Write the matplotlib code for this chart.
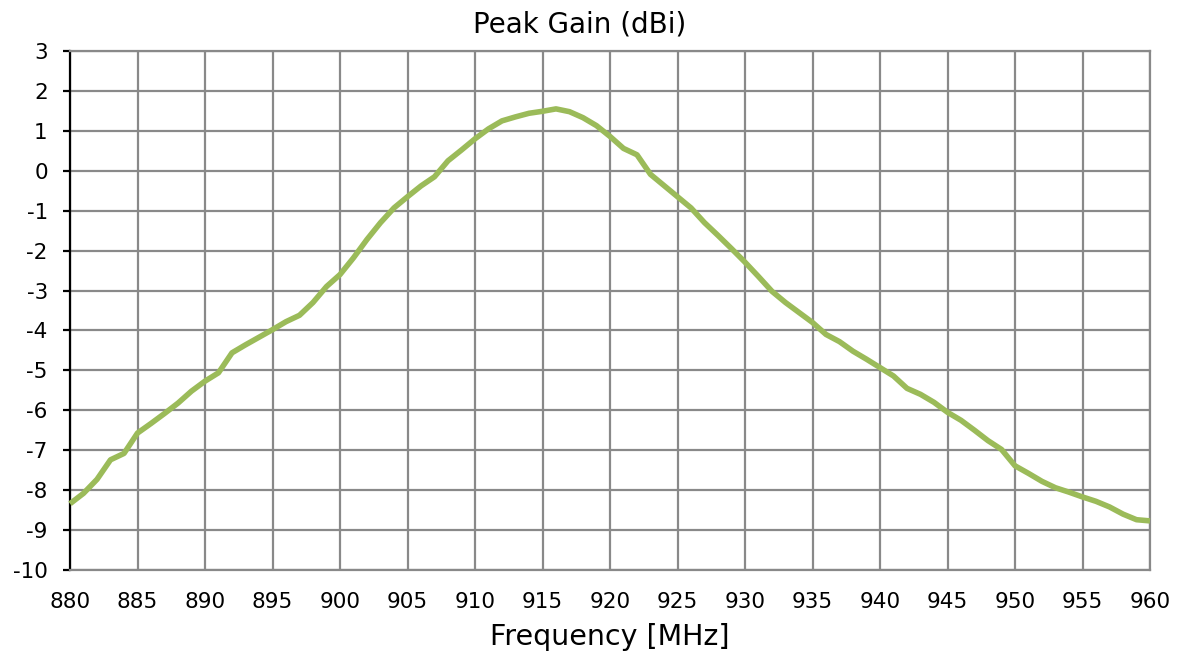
import matplotlib
matplotlib.use("Agg")
import matplotlib.pyplot as plt

freq_mhz = list(range(880, 961))
gain_dbi = [-8.34, -8.08, -7.73, -7.24, -7.08, -6.57, -6.33, -6.08, -5.82, -5.52,
            -5.27, -5.06, -4.56, -4.36, -4.17, -3.98, -3.78, -3.62, -3.30, -2.90,
            -2.60, -2.18, -1.72, -1.30, -0.93, -0.65, -0.38, -0.15, 0.25, 0.52,
            0.80, 1.05, 1.25, 1.35, 1.44, 1.49, 1.55, 1.48, 1.33, 1.13,
            0.86, 0.56, 0.40, -0.09, -0.37, -0.65, -0.93, -1.30, -1.62, -1.95,
            -2.29, -2.65, -3.02, -3.30, -3.55, -3.80, -4.10, -4.28, -4.52, -4.72,
            -4.93, -5.14, -5.45, -5.60, -5.80, -6.05, -6.25, -6.50, -6.76, -6.98,
            -7.39, -7.58, -7.78, -7.94, -8.05, -8.17, -8.28, -8.42, -8.60, -8.74,
            -8.77]
x_ticks = list(range(880, 961, 5))
y_ticks = list(range(-10, 4))

title = "Peak Gain (dBi)"
xlabel = "Frequency [MHz]"

plt.rcParams['font.family'] = ['DejaVu Sans']
plt.rcParams['axes.unicode_minus'] = False

fig = plt.figure(figsize=(11.79, 6.63), dpi=100)
ax = fig.add_axes([70/1179, 1-570/663, (1150-70)/1179, (570-51)/663])

grid_c = '#898989'
ax.plot(freq_mhz, gain_dbi, color='#9BBB59', lw=4.0, solid_joinstyle='round',
        solid_capstyle='butt', zorder=3, clip_on=False)

ax.set_xlim(880, 960)
ax.set_ylim(-10, 3)
ax.set_xticks(x_ticks)
ax.set_yticks(y_ticks)
ax.grid(True, color=grid_c, lw=1.6, zorder=1)
ax.set_axisbelow(True)

for s in ['top', 'right', 'bottom']:
    ax.spines[s].set_color(grid_c)
    ax.spines[s].set_linewidth(1.6)
ax.spines['left'].set_color('black')
ax.spines['left'].set_linewidth(1.6)

ax.tick_params(axis='y', direction='out', length=5, width=1.6, color='black',
               labelsize=15.5, pad=11)
ax.tick_params(axis='x', length=0, labelsize=15.5, pad=16)

fig.text(580/1179, 1-24/663, title, ha='center', va='center', fontsize=20)
ax.set_xlabel(xlabel, fontsize=20.5, labelpad=8)

fig.savefig('out.png', dpi=100)
